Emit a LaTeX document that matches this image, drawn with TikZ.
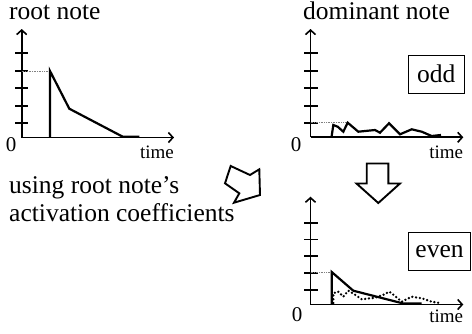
\documentclass[tikz,border=0pt]{standalone}
\usepackage{fontspec}
\setmainfont{Liberation Serif}
\usetikzlibrary{arrows.meta}
\begin{document}
\begin{tikzpicture}[x=1pt,y=-1pt,
  axisline/.style={line width=1.8pt,-{Straight Barb[length=4.5pt,width=10pt,line width=1.6pt]}},
  tickmark/.style={line width=1.9pt},
  curve/.style={line width=2.2pt,line join=miter},
  dcurve/.style={line width=2.6pt,line cap=round,dash pattern=on 0pt off 3.8pt},
  guide/.style={densely dotted,line width=0.7pt,gray},
  lbl/.style={font=\fontsize{25.5}{28}\selectfont,inner sep=0pt},
  small/.style={font=\fontsize{19}{21}\selectfont,inner sep=0pt},
  zero/.style={font=\fontsize{21}{23}\selectfont,inner sep=0pt},
  parity/.style={draw,line width=1pt,font=\fontsize{25.5}{28}\selectfont,inner sep=0pt},
  hollow/.style={draw,line width=1.9pt,fill=white,line join=miter}]
\useasboundingbox (0,0) rectangle (472,333);

% ---------- root note plot ----------
\node[lbl,anchor=base west] (t1) at (9,19.3) {root note};
\coordinate (o1) at (21.7,137.5);
\coordinate (y1) at (21.7,29);
\coordinate (x1) at (174,137.5);
\draw[axisline] (o1) -- (y1);
\draw[axisline] (o1) -- (x1);
\foreach \yy in {53.3,71,88.3,105.7,122.7}{\draw[tickmark] (15,\yy) -- (28.3,\yy);}
\draw[guide] (21.7,71) -- (50,71);
\draw[curve] (50,137.5) -- (50,71) -- (69.3,108.7) -- (122.7,136.7) -- (139.3,136.7);
\node[zero,anchor=base] (z1) at (11,151) {0};
\node[small,anchor=base east] (tm1) at (174,158) {time};

% ---------- dominant note plot ----------
\node[lbl,anchor=base west] (t2) at (303,19.3) {dominant note};
\coordinate (o2) at (310.5,137.3);
\coordinate (y2) at (310.5,29);
\coordinate (x2) at (463.3,137.3);
\draw[axisline] (o2) -- (y2);
\draw[axisline] (o2) -- (x2);
\foreach \yy in {53.3,71,88.3,105.7,122.7}{\draw[tickmark] (304,\yy) -- (317.5,\yy);}
\draw[guide] (310.5,122.7) -- (347,122.7);
\draw[curve] (331.7,136) -- (333.3,125) -- (337.7,126.7) -- (343.3,131.7) -- (347.7,122.7)
  -- (358.3,131.7) -- (375,130) -- (380,132.7) -- (389,123.3) -- (400,134.3)
  -- (411.7,129.3) -- (421.7,131.7) -- (431.7,136) -- (441,135);
\node[zero,anchor=base] (z2) at (296,151) {0};
\node[small,anchor=base east] (tm2) at (463.3,158) {time};
\node[parity,minimum width=56pt,minimum height=38.3pt] (odd) at (436.3,74.2) {odd};

% ---------- even plot ----------
\coordinate (o3) at (310.5,304.5);
\coordinate (y3) at (310.5,196.7);
\coordinate (x3) at (463.3,304.5);
\draw[axisline] (o3) -- (y3);
\draw[axisline] (o3) -- (x3);
\foreach \yy in {222.7,239.5,256.3,273,290}{\draw[tickmark] (304,\yy) -- (317.5,\yy);}
\draw[guide] (310.5,272.5) -- (332,272.5);
\draw[dcurve] (333.3,303) -- (333.3,293.3) -- (338,291.5) -- (343.3,296.7) -- (348.3,290.7)
  -- (354,294) -- (361.7,299.3) -- (375,297.7) -- (383,295) -- (389.3,291.7)
  -- (395,296) -- (401.7,301.7) -- (411.7,296.7) -- (421.7,298.3) -- (431.7,301.7) -- (441.7,303.3);
\draw[curve] (331.7,304.5) -- (331.7,272) -- (353.3,290.7) -- (403.3,303.5) -- (421.7,303.5);
\node[zero,anchor=base] (z3) at (297,321.5) {0};
\node[small,anchor=base east] (tm3) at (463.3,322.5) {time};
\node[parity,minimum width=62.4pt,minimum height=38pt] (even) at (439.5,251.7) {even};

% ---------- caption and hollow arrows ----------
\node[lbl,anchor=base west] (c1) at (9,193.3) {using root note’s};
\node[lbl,anchor=base west] (c2) at (9,221.7) {activation coefficients};
\draw[hollow] (225,183.3) -- (230.7,166) -- (250,175) -- (259.3,169.3) -- (260,195)
  -- (234,202.7) -- (239.3,193.3) -- cycle;
\draw[hollow] (366.7,163.5) -- (388.3,163.5) -- (388.3,183.5) -- (400,183.5) -- (378.3,203)
  -- (356.5,183.5) -- (366.7,183.5) -- cycle;
\end{tikzpicture}
\end{document}
